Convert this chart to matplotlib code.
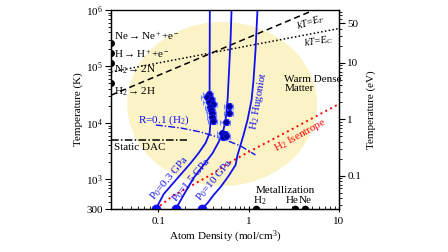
import numpy as np
import matplotlib
matplotlib.use('Agg')
import matplotlib.pyplot as plt
from matplotlib.patches import Ellipse
from matplotlib.ticker import FixedLocator, FixedFormatter, LogLocator, NullFormatter

plt.rcParams['font.family'] = ['Liberation Serif', 'DejaVu Serif']
plt.rcParams['mathtext.fontset'] = 'custom'
plt.rcParams['mathtext.rm'] = 'Liberation Serif'
plt.rcParams['mathtext.it'] = 'Liberation Serif:italic'
plt.rcParams['mathtext.bf'] = 'Liberation Serif:bold'
plt.rcParams['font.size'] = 8

# ---------------- data ----------------
# precompressed H2 Hugoniots (atom density mol/cm3, temperature K)
hug03_rho = [0.094, 0.115, 0.164, 0.229, 0.280, 0.334, 0.370, 0.380, 0.370, 0.370, 0.372]
hug03_T = [300, 553, 1064, 1960, 2944, 4426, 6650, 11300, 25500, 57700, 1e6]
hug15_rho = [0.156, 0.191, 0.246, 0.318, 0.400, 0.466, 0.515, 0.556, 0.585, 0.600, 0.631, 0.647]
hug15_T = [300, 532, 1064, 1806, 2944, 4610, 6390, 11300, 25500, 57700, 2.94e5, 1e6]
hug10_rho = [0.302, 0.352, 0.410, 0.490, 0.600, 0.717, 0.754, 0.814, 0.878, 0.972, 1.077,
             1.133, 1.192, 1.253]
hug10_T = [300, 384, 532, 737, 1153, 1806, 2714, 4080, 6134, 11300, 25500,
           57700, 1.96e5, 1e6]

# experimental points
exp_rho = [0.361, 0.343, 0.380, 0.361, 0.400, 0.370, 0.380, 0.390, 0.390, 0.400,
           0.600, 0.600, 0.556,
           0.502, 0.542, 0.515, 0.556]
exp_T = [32600, 28850, 26600, 23550, 21700, 19200, 17000, 15000, 12770, 10840,
         20000, 15000, 10400,
         6650, 6390, 5650, 5890]
exp_rho_err = [0.045, 0.045, 0.045, 0.045, 0.045, 0.045, 0.045, 0.045, 0.045, 0.045,
               0.07, 0.07, 0.07,
               0.06, 0.06, 0.06, 0.06]
exp_T_err = [3500, 3000, 2800, 2500, 2300, 2000, 1800, 1600, 1400, 1200,
             2200, 1700, 1200,
             700, 700, 650, 650]

# R = 0.1 (H2) line
r01_rho = [0.094, 0.177, 0.294, 0.490, 0.814, 1.19]
r01_T = [9220, 8160, 6930, 5430, 3920, 2714]

# H2 isentrope
isen_rho = [0.094, 0.1445, 0.229, 0.380, 0.631, 1.049, 2.90, 10.0]
isen_T = [300, 511, 767, 1202, 2042, 3193, 7520, 21700]

# kT = E_F and kT = E_C
ef_rho = [0.03, 5.3]
ef_T = [3.1e4, 1e6]
ec_rho = [0.03, 10.0]
ec_T = [8.0e4, 4.7e5]

# static DAC limit
dac_rho = [0.03, 0.21]
dac_T = [5000, 5000]

# ionization / dissociation energies (K) on left axis
ion_labels = ['Ne$\\rightarrow$Ne$^+$+e$^-$', 'H$\\rightarrow$H$^+$+e$^-$',
              'N$_2$$\\rightarrow$2N', 'H$_2$$\\rightarrow$2H']
ion_T = [2.58e5, 1.71e5, 1.13e5, 5.2e4]
ion_text_T = [3.45e5, 1.68e5, 8.7e4, 3.6e4]

# metallization densities
met_labels = ['H$_2$', 'He', 'Ne']
met_rho = [1.22, 3.25, 4.19]
met_label_rho = [1.33, 3.02, 4.2]

# Hugoniot initial states
p0_labels = ['P$_0$=0.3 GPa', 'P$_0$=1.5 GPa', 'P$_0$=10 GPa']
p0_rho = [0.094, 0.156, 0.302]
p0_label_rho = [0.134, 0.234, 0.420]
p0_label_T = [1064, 980, 980]

K_PER_EV = 11604.5
T_min, T_max = 300, 1e6
rho_min, rho_max = 0.03, 10

blue = '#1010f0'
# ---------------- figure ----------------
fig = plt.figure(figsize=(4.48, 2.52), dpi=100)
ax = fig.add_axes([0.2478, 0.1706, 0.5089, 0.7897])
ax.set_xscale('log')
ax.set_yscale('log')
ax.set_xlim(rho_min, rho_max)
ax.set_ylim(T_min, T_max)

ax.add_patch(Ellipse((0.487, 0.528), 0.833, 0.824, transform=ax.transAxes,
                     facecolor='#fbf3c6', edgecolor='none', zorder=0))

# lines
ax.plot(ef_rho, ef_T, color='black', ls=(0, (4, 2.5)), lw=1.1, zorder=2)
ax.plot(ec_rho, ec_T, color='black', ls=(0, (1, 1.5)), lw=1.1, zorder=2)
ax.plot(dac_rho, dac_T, color='black', ls=(0, (5, 1.5, 1, 1.5)), lw=1.1, zorder=2)
ax.plot(r01_rho, r01_T, color=blue, ls=(0, (5, 1.5, 1, 1.5)), lw=1.0, zorder=2)
ax.plot(isen_rho, isen_T, color='red', ls=(0, (1, 1.8)), lw=1.4, zorder=2)

for r, t in [(hug03_rho, hug03_T), (hug15_rho, hug15_T), (hug10_rho, hug10_T)]:
    ax.plot(r, t, color=blue, lw=1.3, zorder=3)

ax.plot(p0_rho, [T_min] * 3, 'o', color=blue, ms=6, zorder=4)

ax.errorbar(exp_rho, exp_T, xerr=exp_rho_err, yerr=exp_T_err, fmt='o',
            ms=4.2, mfc='#000090', mec=blue, mew=0.8, ecolor='#6f86ff',
            elinewidth=1.0, capsize=1.8, capthick=1.0, zorder=5)

# left-axis markers
ax.plot([rho_min] * 4, ion_T, 'o', color='black', ms=4, zorder=4)
for lab, t in zip(ion_labels, ion_text_T):
    ax.text(0.032, t, lab, fontsize=8, va='center', ha='left', zorder=6)

# metallization
ax.plot(met_rho, [T_min] * 3, 'o', color='black', ms=4.5, zorder=4)
ax.text(1.2, 640, 'Metallization', fontsize=8, ha='left', va='center')
for lab, r in zip(met_labels, met_label_rho):
    ax.text(r, 420, lab, fontsize=8, ha='center', va='center')

# labels
ax.text(4.9, 5.9e5, '$kT$=$E_F$', fontsize=7.5, rotation=18, ha='center', va='center')
ax.text(5.9, 2.8e5, '$kT$=$E_C$', fontsize=7.5, rotation=9, ha='center', va='center')
ax.text(2.48, 4.8e4, 'Warm Dense\nMatter', fontsize=8, ha='left', va='center',
        linespacing=1.0)
ax.text(1.286, 2.5e4, 'H$_2$ Hugoniot', fontsize=8, color=blue, rotation=80,
        ha='center', va='center')
ax.text(3.7, 6000, 'H$_2$ Isentrope', fontsize=8, color='red', rotation=29,
        ha='center', va='center')
ax.text(0.059, 1.1e4, 'R=0.1 (H$_2$)', fontsize=8, color=blue, ha='left', va='center')
ax.text(0.032, 3.7e3, 'Static DAC', fontsize=8, ha='left', va='center')

for lab, x, y in zip(p0_labels, p0_label_rho, p0_label_T):
    ax.text(x, y, lab, fontsize=8, color=blue, rotation=50, ha='center', va='center')

# ticks
ax.yaxis.set_major_locator(FixedLocator([300, 1e3, 1e4, 1e5, 1e6]))
ax.yaxis.set_major_formatter(FixedFormatter(['300', '$10^3$', '$10^4$', '$10^5$', '$10^6$']))
ax.yaxis.set_minor_locator(LogLocator(base=10, subs=np.arange(2, 10), numticks=20))
ax.yaxis.set_minor_formatter(NullFormatter())
ax.xaxis.set_major_locator(FixedLocator([0.1, 1, 10]))
ax.xaxis.set_major_formatter(FixedFormatter(['0.1', '1', '10']))
ax.xaxis.set_minor_locator(LogLocator(base=10, subs=np.arange(2, 10), numticks=20))
ax.xaxis.set_minor_formatter(NullFormatter())
ax.tick_params(axis='y', which='major', direction='out', length=4, width=0.8, labelsize=8, pad=2)
ax.tick_params(axis='y', which='minor', direction='out', length=2, width=0.6)
ax.tick_params(axis='x', which='major', direction='inout', length=5, width=0.8, labelsize=8, pad=3)
ax.tick_params(axis='x', which='minor', direction='in', length=2.5, width=0.6)
ax.set_xlabel('Atom Density (mol/cm$^3$)', fontsize=8, labelpad=2)
ax.set_ylabel('Temperature (K)', fontsize=8, labelpad=2)

ax2 = ax.twinx()
ax2.set_yscale('log')
ax2.set_ylim(T_min / K_PER_EV, T_max / K_PER_EV)
ax2.yaxis.set_major_locator(FixedLocator([0.1, 1, 10, 50]))
ax2.yaxis.set_major_formatter(FixedFormatter(['0.1', '1', '10', '50']))
ax2.yaxis.set_minor_locator(LogLocator(base=10, subs=np.arange(2, 10), numticks=20))
ax2.yaxis.set_minor_formatter(NullFormatter())
ax2.tick_params(axis='y', which='major', direction='out', length=4, width=0.8, labelsize=8, pad=2)
ax2.tick_params(axis='y', which='minor', direction='out', length=2, width=0.6)
ax2.set_ylabel('Temperature (eV)', fontsize=8, labelpad=4)

for a in (ax, ax2):
    for s in a.spines.values():
        s.set_linewidth(0.9)
ax.spines['top'].set_color('#777777')

fig.savefig('out.png', dpi=100)
